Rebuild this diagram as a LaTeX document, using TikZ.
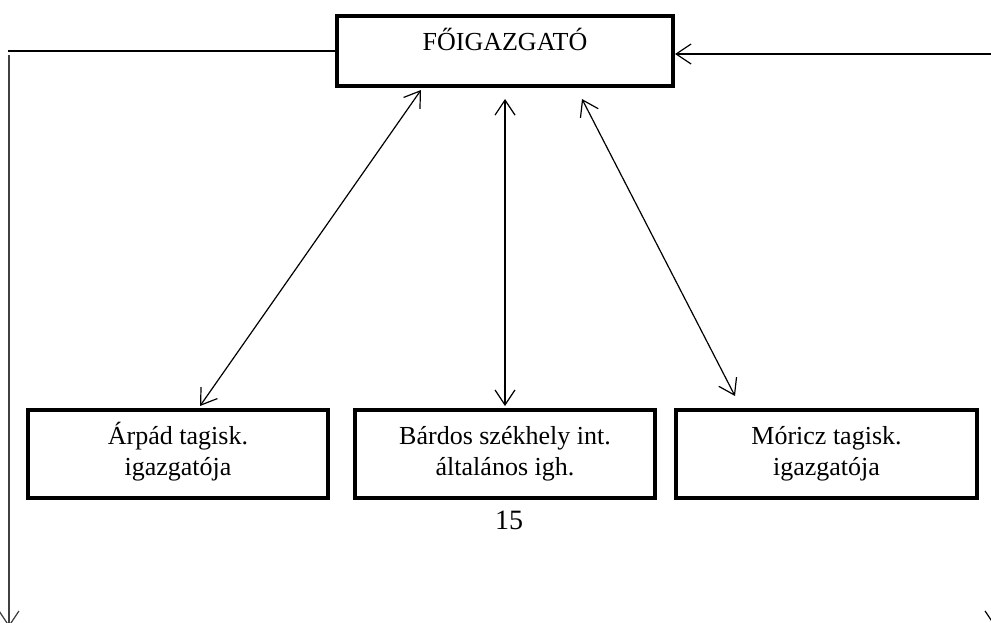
\documentclass[tikz,border=0pt]{standalone}
\usepackage{fontspec}
\setmainfont{Liberation Serif}
\usetikzlibrary{arrows.meta}
\begin{document}
\begin{tikzpicture}[x=1pt,y=-1pt,
  box/.style={draw, line width=4pt, rectangle, inner sep=0pt, align=center,
    font=\fontsize{26}{31}\selectfont},
  lowbox/.style={box, minimum height=88pt, text height=49pt, text depth=7pt},
  conn/.style={line width=1.2pt, {Straight Barb[length=15pt,width=20pt]}-{Straight Barb[length=15pt,width=20pt]}},
  oneway/.style={line width=1.2pt, -{Straight Barb[length=15pt,width=20pt]}}]
\useasboundingbox (0,0) rectangle (991,622);
\clip (0,0) rectangle (991,622);
\fill[white] (0,0) rectangle (991,622);

\node[box, minimum width=336pt, minimum height=70pt, text height=18pt, text depth=20pt] (fo) at (505,51) {FŐIGAZGATÓ};
\node[lowbox, minimum width=300pt] (arpad) at (178,454) {Árpád tagisk.\\igazgatója};
\node[lowbox, minimum width=300pt] (bardos) at (505,454) {Bárdos székhely int.\\általános igh.};
\node[lowbox, minimum width=301pt] (moricz) at (826.5,454) {Móricz tagisk.\\igazgatója};
\node[font=\fontsize{28}{33}\selectfont, inner sep=0pt] (page) at (509,520.5) {15};

% arrow end points
\coordinate (a1) at (421,90);
\coordinate (a2) at (200,406);
\coordinate (b1) at (505,99);
\coordinate (b2) at (505,406);
\coordinate (c1) at (582,99);
\coordinate (c2) at (735,396);

\draw[conn] (a1) -- (a2);
\draw[conn] (b1) -- (b2);
\draw[conn] (c1) -- (c2);

% left line
\coordinate (lc) at (8,51);
\coordinate (lv) at (9,55);
\coordinate (lb) at (9,627);
\draw[line width=2pt] (fo.west) -- (lc);
\draw[oneway, black!75] (lv) -- (lb);

% right line
\coordinate (rt) at (995,54);
\coordinate (rb) at (995,627);
\coordinate (fe) at (fo.east |- rt);
\draw[oneway] (rt) -- (fe);
\draw[oneway] (rt) -- (rb);
\end{tikzpicture}
\end{document}
